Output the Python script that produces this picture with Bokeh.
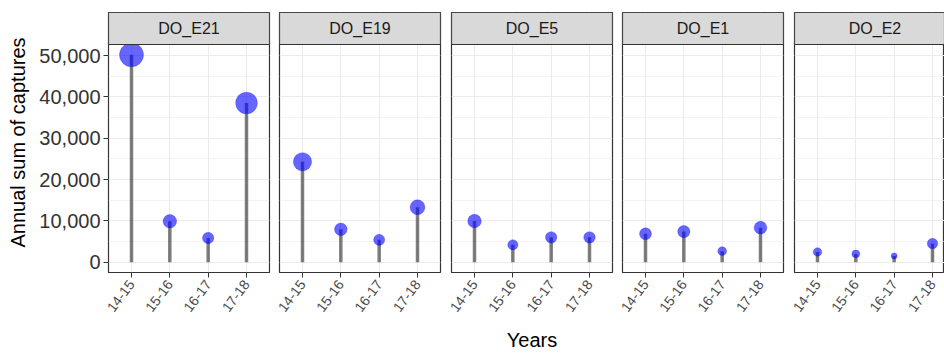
import math

import numpy as np
from bokeh.embed import file_html
from bokeh.layouts import row
from bokeh.models import (BoxAnnotation, ColumnDataSource, FixedTicker, Label,
                          NumeralTickFormatter, Range1d)
from bokeh.plotting import figure
from bokeh.resources import INLINE

# ---- data -------------------------------------------------------------
years = ["14-15", "15-16", "16-17", "17-18"]
sites = ["DO_E21", "DO_E19", "DO_E5", "DO_E1", "DO_E2"]

do_e21 = [50200, 9900, 5850, 38550]
do_e19 = [24300, 7950, 5400, 13300]
do_e5 = [9950, 4200, 6000, 6000]
do_e1 = [6850, 7400, 2650, 8350]
do_e2 = [2450, 2000, 1500, 4500]

captures = [do_e21, do_e19, do_e5, do_e1, do_e2]

y_ticks = [0, 10000, 20000, 30000, 40000, 50000]
y_minor = [5000, 15000, 25000, 35000, 45000]

# ---- layout / style ---------------------------------------------------
FONT = "Liberation Sans"
PANEL_W = 161
PANEL_H = 228
STRIP_H = 32
TOP = 12
LEFT = 108
GAPS = [10, 11, 10, 11]
LB = 7            # room left of each later panel for its rotated tick labels
PAGE_W = 944

GRID = "#EBEBEB"
DARK = "#333333"

positions = list(range(1, len(years) + 1))
X_LO, X_HI = 0.4, len(years) + 0.6

all_vals = np.concatenate([np.asarray(v, dtype=float) for v in captures])
vmin, vmax = all_vals.min(), all_vals.max()
y_lo = -0.05 * vmax
y_hi = 1.05 * vmax
y_top = y_hi + STRIP_H / PANEL_H * (y_hi - y_lo)


def point_size(v, smin=6.0, smax=24.0):
    """Area-style size scale (diameter in px)."""
    return smin + (smax - smin) * math.sqrt((v - vmin) / (vmax - vmin))


figs = []
x_left = LEFT
for i, (site, vals) in enumerate(zip(sites, captures)):
    first = i == 0
    last = i == len(sites) - 1
    right_border = 0 if last else GAPS[i] - LB
    fw = PANEL_W if not last else PAGE_W - x_left
    x_end = X_LO + (X_HI - X_LO) * fw / PANEL_W

    p = figure(
        frame_width=fw,
        frame_height=PANEL_H + STRIP_H,
        x_range=Range1d(X_LO, x_end),
        y_range=Range1d(y_lo, y_top),
        output_backend="svg",
        toolbar_location=None,
        title=None,
        y_axis_location="left" if first else None,
        min_border_top=TOP,
        min_border_left=LEFT if first else LB,
        min_border_right=right_border,
        min_border_bottom=0,
        background_fill_color="white",
        border_fill_color="white",
        outline_line_color=DARK,
        outline_line_width=1.2,
    )

    # grid
    p.xgrid.ticker = FixedTicker(ticks=positions)
    p.xgrid.grid_line_color = GRID
    p.xgrid.grid_line_width = 1.1
    p.ygrid.ticker = FixedTicker(ticks=y_ticks, minor_ticks=y_minor)
    p.ygrid.grid_line_color = GRID
    p.ygrid.grid_line_width = 1.1
    p.ygrid.minor_grid_line_color = GRID
    p.ygrid.minor_grid_line_width = 0.6

    # x axis
    xa = p.xaxis[0]
    xa.ticker = FixedTicker(ticks=positions)
    xa.major_label_overrides = {pos: yr for pos, yr in zip(positions, years)}
    xa.major_label_orientation = math.radians(53)
    xa.major_label_text_font = FONT
    xa.major_label_text_font_size = "14px"
    xa.major_label_text_color = "#4D4D4D"
    xa.major_label_standoff = 4
    xa.axis_line_color = None
    xa.major_tick_line_color = DARK
    xa.major_tick_in = 0
    xa.major_tick_out = 5
    xa.minor_tick_line_color = None
    if i == len(sites) // 2:
        xa.axis_label = "Years"
        xa.axis_label_text_font = FONT
        xa.axis_label_text_font_size = "20px"
        xa.axis_label_text_font_style = "normal"
        xa.axis_label_text_color = "black"
        xa.axis_label_standoff = 10

    # y axis (first panel only)
    if first:
        ya = p.yaxis[0]
        ya.ticker = FixedTicker(ticks=y_ticks, minor_ticks=y_minor)
        ya.formatter = NumeralTickFormatter(format="0,0")
        ya.major_label_text_font = FONT
        ya.major_label_text_font_size = "20px"
        ya.major_label_text_color = DARK
        ya.major_label_standoff = 3
        ya.axis_line_color = None
        ya.major_tick_line_color = DARK
        ya.major_tick_in = 0
        ya.major_tick_out = 5
        ya.minor_tick_line_color = None
        ya.axis_label = "Annual sum of captures"
        ya.axis_label_text_font = FONT
        ya.axis_label_text_font_size = "20px"
        ya.axis_label_text_font_style = "normal"
        ya.axis_label_text_color = "black"
        ya.axis_label_standoff = 7

    src = ColumnDataSource(dict(
        x=positions,
        year=years,
        captures=vals,
        base=[0] * len(vals),
        size=[point_size(v) for v in vals],
    ))

    p.segment(x0="x", y0="base", x1="x", y1="captures", source=src,
              line_color="black", line_alpha=0.5, line_width=3.5)
    p.scatter(x="x", y="captures", size="size", source=src,
              fill_color="blue", fill_alpha=0.6,
              line_color="blue", line_alpha=0.25, line_width=1)

    # facet strip
    p.add_layout(BoxAnnotation(bottom=y_hi, fill_color="#D9D9D9", fill_alpha=1.0,
                               line_color=DARK, line_width=1.2, line_alpha=1.0))
    p.add_layout(Label(x=(X_LO + X_HI) / 2, y=(y_hi + y_top) / 2, text=site,
                       text_align="center", text_baseline="middle",
                       text_font=FONT, text_font_size="16px", text_color="#1A1A1A"))

    figs.append(p)
    x_left += fw + GAPS[i] if not last else 0

layout = row(*figs, spacing=0)

with open("out.html", "w") as f:
    f.write(file_html(layout, INLINE))
